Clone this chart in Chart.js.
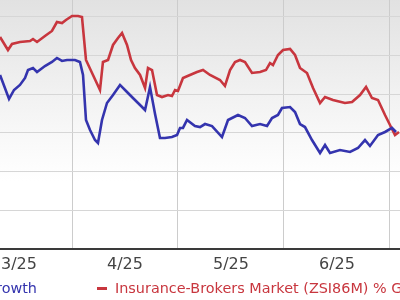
<!DOCTYPE html>
<html><head><meta charset="utf-8">
<script src="https://cdn.jsdelivr.net/npm/chart.js@4"></script>
<style>
html,body{margin:0;padding:0;width:400px;height:300px;overflow:hidden;background:#fff;}
#wrap{position:absolute;left:-60px;top:-30px;width:520px;height:330px;}
#legend{position:absolute;left:0;top:279px;width:400px;height:18px;font:14.4px "DejaVu Sans",sans-serif;white-space:nowrap;}
.item{position:absolute;top:0;height:18px;display:flex;align-items:center;}
.item i{display:inline-block;width:10px;height:3px;margin-right:8px;}
</style></head><body>
<div id="wrap"><canvas id="c"></canvas></div>
<div id="legend"></div>
<script>
// ---- data (x in month units: 4 = start of April 2025; y in % growth) ----
const seriesLabels = ["% Growth", "Insurance-Brokers Market (ZSI86M) % Growth"];
const seriesColors = ["#3434ae", "#c8363e"];
const tickLabels = ["3/25", "4/25", "5/25", "6/25"];
const tickPositions = [3.5, 4.5, 5.5, 6.5];
const monthBounds = [3, 4, 5, 6, 7];

const blueX = [3.321,3.406,3.453,3.509,3.557,3.585,3.632,3.670,3.745,3.811,3.858,3.906,3.953,4.028,4.075,4.104,4.132,4.170,4.217,4.245,4.283,4.330,4.387,4.453,4.519,4.575,4.642,4.689,4.736,4.783,4.830,4.877,4.943,4.991,5.019,5.047,5.085,5.160,5.208,5.255,5.321,5.415,5.472,5.566,5.632,5.698,5.774,5.840,5.887,5.943,5.981,6.057,6.104,6.151,6.198,6.264,6.340,6.387,6.434,6.528,6.623,6.698,6.764,6.811,6.887,6.953,7.019,7.057];
const blueY = [7.50,4.40,5.56,6.21,7.11,8.14,8.40,7.89,8.66,9.18,9.70,9.31,9.44,9.44,9.18,7.50,1.68,0.39,-0.91,-1.29,1.68,3.88,4.91,6.21,5.30,4.52,3.62,2.97,5.95,2.50,-0.65,-0.65,-0.52,-0.26,0.65,0.65,1.68,0.90,0.77,1.16,0.90,-0.52,1.68,2.33,1.94,0.90,1.16,0.90,1.94,2.33,3.23,3.36,2.71,1.16,0.77,-0.91,-2.59,-1.55,-2.59,-2.20,-2.46,-1.94,-0.91,-1.68,-0.26,0.13,0.65,0.13];

const redX = [3.321,3.396,3.434,3.509,3.604,3.632,3.670,3.745,3.811,3.858,3.906,3.943,4.0,4.057,4.094,4.132,4.198,4.264,4.292,4.340,4.387,4.434,4.472,4.519,4.557,4.594,4.642,4.689,4.717,4.755,4.802,4.849,4.906,4.943,4.972,5.0,5.047,5.113,5.179,5.236,5.302,5.396,5.443,5.491,5.538,5.585,5.632,5.698,5.774,5.830,5.868,5.896,5.943,5.991,6.057,6.104,6.151,6.217,6.274,6.340,6.387,6.462,6.575,6.642,6.717,6.774,6.830,6.887,6.953,7.0,7.047,7.085];
const redY = [12.41,10.73,11.51,11.77,11.89,12.15,11.77,12.54,13.19,14.35,14.22,14.61,15.13,15.13,15.0,9.44,7.50,5.56,9.18,9.44,11.38,12.28,12.93,11.38,9.44,8.40,7.50,5.82,8.40,8.14,4.91,4.65,4.91,4.78,5.56,5.43,7.11,7.50,7.89,8.14,7.50,6.85,6.08,8.14,9.18,9.44,9.18,7.76,7.89,8.14,9.05,8.79,10.08,10.73,10.86,10.08,8.40,7.76,5.82,3.88,4.66,4.27,3.88,4.01,4.91,5.95,4.52,4.27,2.33,1.03,-0.26,0.13];

const toPts = (xs, ys) => xs.map((x, i) => ({x: x, y: ys[i]}));

const bgPlugin = {
  id: 'plotBg',
  beforeDraw(chart) {
    const a = chart.chartArea, ctx = chart.ctx;
    const g = ctx.createLinearGradient(0, a.top, 0, a.bottom);
    g.addColorStop(0, '#dedede');
    g.addColorStop(0.55, '#f7f7f7');
    g.addColorStop(0.75, '#ffffff');
    g.addColorStop(1, '#ffffff');
    ctx.save();
    ctx.fillStyle = g;
    ctx.fillRect(a.left, a.top, a.right - a.left, a.bottom - a.top);
    ctx.restore();
  }
};

const chart = new Chart(document.getElementById('c'), {
  type: 'line',
  data: {
    datasets: [
      {label: seriesLabels[0], data: toPts(blueX, blueY), borderColor: seriesColors[0], borderWidth: 2.6, pointRadius: 0, tension: 0, xAxisID: 'x', yAxisID: 'y'},
      {label: seriesLabels[1], data: toPts(redX, redY), borderColor: seriesColors[1], borderWidth: 2.6, pointRadius: 0, tension: 0, xAxisID: 'x', yAxisID: 'y'}
    ]
  },
  options: {
    responsive: true,
    maintainAspectRatio: false,
    animation: false,
    layout: {padding: {left: 26, right: 54.1, top: 8.3, bottom: 21}},
    plugins: {legend: {display: false}, tooltip: {enabled: false}},
    scales: {
      x: {
        type: 'linear', position: 'bottom', min: 3, max: 7.15,
        afterBuildTicks: s => { s.ticks = monthBounds.map(v => ({value: v})); },
        afterFit: s => { s.height = 0; },
        ticks: {display: false},
        grid: {color: '#cccccc', lineWidth: 1, drawTicks: false},
        border: {display: true, color: '#3a3a3a', width: 2}
      },
      x2: {
        type: 'linear', position: 'bottom', min: 3, max: 7.15,
        afterBuildTicks: s => { s.ticks = tickPositions.map(v => ({value: v})); },
        afterFit: s => { s.height = 30; },
        ticks: {
          padding: 6, maxRotation: 0, autoSkip: false,
          color: '#444', font: {family: 'DejaVu Sans', size: 16},
          callback: (v, i) => tickLabels[i]
        },
        grid: {display: false, drawTicks: false},
        border: {display: false}
      },
      y: {
        type: 'linear', position: 'right', min: -15, max: 20,
        afterFit: s => { s.width = 0; },
        ticks: {display: false, stepSize: 5},
        grid: {color: '#d6d6d6', lineWidth: 1, drawTicks: false},
        border: {display: false}
      }
    }
  },
  plugins: [bgPlugin]
});

// HTML legend built from the datasets
const leg = document.getElementById('legend');
chart.data.datasets.forEach((ds, i) => {
  const d = document.createElement('div');
  d.className = 'item';
  if (i === 0) d.style.right = '363px'; else d.style.left = '97px';
  const sw = document.createElement('i');
  sw.style.background = ds.borderColor;
  const t = document.createElement('span');
  t.textContent = ds.label;
  t.style.color = ds.borderColor;
  d.appendChild(sw); d.appendChild(t);
  leg.appendChild(d);
});
</script>
</body></html>
